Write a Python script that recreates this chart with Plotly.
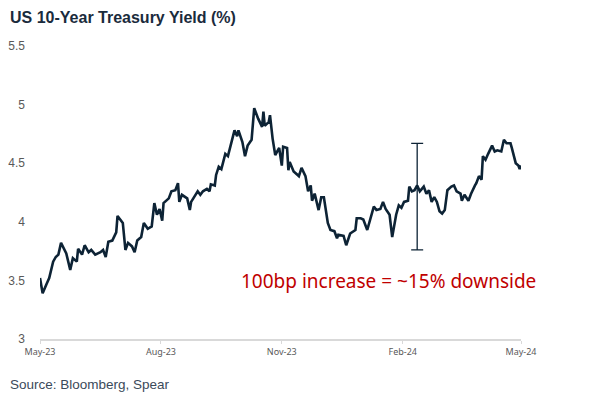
import plotly.graph_objects as go

# 10y yield (date, %)
dates = [
    "2023-05-01", "2023-05-03", "2023-05-06", "2023-05-08", "2023-05-11", "2023-05-13",
    "2023-05-15", "2023-05-17", "2023-05-21", "2023-05-24", "2023-05-26", "2023-05-29",
    "2023-05-30", "2023-06-02", "2023-06-04", "2023-06-07", "2023-06-09", "2023-06-12",
    "2023-06-16", "2023-06-18", "2023-06-20", "2023-06-22", "2023-06-25", "2023-06-28",
    "2023-06-29", "2023-07-03", "2023-07-05", "2023-07-07", "2023-07-10", "2023-07-12",
    "2023-07-14", "2023-07-17", "2023-07-19", "2023-07-22", "2023-07-25", "2023-07-27",
    "2023-07-29", "2023-07-31", "2023-08-02", "2023-08-03", "2023-08-07", "2023-08-09",
    "2023-08-12", "2023-08-14", "2023-08-15", "2023-08-17", "2023-08-21", "2023-08-23",
    "2023-08-24", "2023-08-29", "2023-08-31", "2023-09-02", "2023-09-05", "2023-09-07",
    "2023-09-08", "2023-09-11", "2023-09-12", "2023-09-14", "2023-09-16", "2023-09-19",
    "2023-09-21", "2023-09-24", "2023-09-26", "2023-09-28", "2023-09-29", "2023-10-02",
    "2023-10-04", "2023-10-06", "2023-10-09", "2023-10-11", "2023-10-14", "2023-10-17",
    "2023-10-18", "2023-10-19", "2023-10-22", "2023-10-23", "2023-10-25", "2023-10-27",
    "2023-10-30", "2023-11-01", "2023-11-02", "2023-11-05", "2023-11-06", "2023-11-07",
    "2023-11-10", "2023-11-14", "2023-11-16", "2023-11-19", "2023-11-21", "2023-11-23",
    "2023-11-24", "2023-11-26", "2023-11-29", "2023-12-01", "2023-12-03", "2023-12-06",
    "2023-12-08", "2023-12-11", "2023-12-13", "2023-12-14", "2023-12-18", "2023-12-20",
    "2023-12-23", "2023-12-27", "2023-12-28", "2023-12-31", "2024-01-02", "2024-01-05",
    "2024-01-07", "2024-01-10", "2024-01-12", "2024-01-15", "2024-01-17", "2024-01-19",
    "2024-01-22", "2024-01-24", "2024-01-27", "2024-01-29", "2024-01-31", "2024-02-02",
    "2024-02-05", "2024-02-06", "2024-02-08", "2024-02-10", "2024-02-12", "2024-02-14",
    "2024-02-17", "2024-02-19", "2024-02-21", "2024-02-23", "2024-02-25", "2024-02-27",
    "2024-02-29", "2024-03-02", "2024-03-04", "2024-03-06", "2024-03-09", "2024-03-11",
    "2024-03-13", "2024-03-16", "2024-03-17", "2024-03-19", "2024-03-22", "2024-03-24",
    "2024-03-27", "2024-03-28", "2024-03-30", "2024-04-01", "2024-04-02", "2024-04-04",
    "2024-04-06", "2024-04-09", "2024-04-11", "2024-04-13", "2024-04-16", "2024-04-18",
    "2024-04-20", "2024-04-23", "2024-04-24", "2024-04-27", "2024-04-29", "2024-04-30",
    "2024-05-01",
]
yields = [
    3.52, 3.39, 3.47, 3.52, 3.66, 3.70,
    3.72, 3.82, 3.73, 3.59, 3.69, 3.66,
    3.77, 3.72, 3.80, 3.74, 3.76, 3.72,
    3.74, 3.76, 3.70, 3.83, 3.84, 3.91,
    4.05, 3.99, 3.76, 3.82, 3.79, 3.74,
    3.84, 3.87, 3.99, 3.94, 3.96, 4.16,
    4.06, 4.11, 4.01, 4.16, 4.20, 4.26,
    4.27, 4.33, 4.17, 4.23, 4.20, 4.10,
    4.17, 4.26, 4.23, 4.26, 4.28, 4.26,
    4.32, 4.31, 4.40, 4.47, 4.45, 4.58,
    4.56, 4.68, 4.78, 4.73, 4.78, 4.68,
    4.56, 4.65, 4.70, 4.97, 4.88, 4.81,
    4.94, 4.82, 4.85, 4.91, 4.71, 4.57,
    4.63, 4.48, 4.64, 4.63, 4.44, 4.51,
    4.43, 4.39, 4.46, 4.39, 4.26, 4.31,
    4.18, 4.24, 4.10, 4.21, 4.21, 3.99,
    3.93, 3.92, 3.86, 3.89, 3.88, 3.80,
    3.90, 3.93, 4.03, 4.03, 4.02, 3.93,
    4.01, 4.13, 4.10, 4.11, 4.17, 4.11,
    4.06, 3.87, 4.06, 4.14, 4.12, 4.17,
    4.18, 4.30, 4.26, 4.27, 4.31, 4.26,
    4.30, 4.24, 4.27, 4.17, 4.21, 4.17,
    4.09, 4.07, 4.10, 4.27, 4.30, 4.31,
    4.26, 4.24, 4.18, 4.23, 4.18, 4.24,
    4.31, 4.33, 4.39, 4.36, 4.56, 4.53,
    4.58, 4.65, 4.60, 4.61, 4.60, 4.70,
    4.67, 4.67, 4.63, 4.50, 4.48, 4.45,
    4.48,
]

# range marker (100bp move)
bar_date = "2024-02-12"
bar_low = 3.76
bar_high = 4.67

tick_dates = ["2023-05-01", "2023-08-01", "2023-11-01", "2024-02-01", "2024-05-01"]
tick_labels = ["May-23", "Aug-23", "Nov-23", "Feb-24", "May-24"]
y_ticks = [3, 3.5, 4, 4.5, 5, 5.5]

navy = "#0d2335"

fig = go.Figure()
fig.add_trace(go.Scatter(x=dates, y=yields, mode="lines",
                         line=dict(color=navy, width=2.6), hoverinfo="x+y"))

# the vertical whisker
mid = (bar_low + bar_high) / 2
fig.add_trace(go.Scatter(x=[bar_date], y=[mid], mode="markers",
                         marker=dict(size=1, color=navy, opacity=0),
                         error_y=dict(type="data", symmetric=True, array=[bar_high - mid],
                                      color=navy, thickness=1.3, width=6),
                         hoverinfo="skip"))

# page body has an 8px margin, so the figure is a bit smaller than the window
fig.update_layout(
    width=580, height=385,
    margin=dict(l=32, r=67, t=38, b=54),
    paper_bgcolor="white", plot_bgcolor="white",
    showlegend=False,
    font=dict(family="Liberation Sans, Arial", color="#595959"),
    xaxis=dict(range=["2023-05-01", "2024-05-01"], tickmode="array",
               tickvals=tick_dates, ticktext=tick_labels,
               showgrid=False, zeroline=False, automargin=False,
               showline=True, linecolor="#d9d9d9", linewidth=1.5,
               ticks="outside", ticklen=3, tickcolor="#d9d9d9",
               tickfont=dict(family="Noto Sans", size=9, color="#595959")),
    yaxis=dict(range=[3, 5.5], tickmode="array", tickvals=y_ticks,
               ticktext=[("%g" % v) for v in y_ticks],
               showgrid=False, zeroline=False, showline=False, automargin=False,
               ticklabelstandoff=14,
               tickfont=dict(size=12, color="#595959")),
    annotations=[
        dict(text="<b>US 10-Year Treasury Yield (%)</b>", xref="paper", yref="paper",
             x=-0.0665, y=1.0956, xanchor="left", yanchor="middle", showarrow=False,
             font=dict(size=16, color="#1a2b3c", family="Liberation Sans, Arial")),
        dict(text="Source: Bloomberg, Spear", xref="paper", yref="paper",
             x=-0.0665, y=-0.1536, xanchor="left", yanchor="middle", showarrow=False,
             font=dict(size=13.5, color="#3b4a5a", family="Liberation Sans, Arial")),
        dict(text="100bp increase = ~15% downside", xref="paper", yref="paper",
             x=0.7245, y=0.198, xanchor="center", yanchor="middle", showarrow=False,
             font=dict(size=19, color="#c00000", family="Noto Sans")),
    ],
)

fig.write_html("out.html")
